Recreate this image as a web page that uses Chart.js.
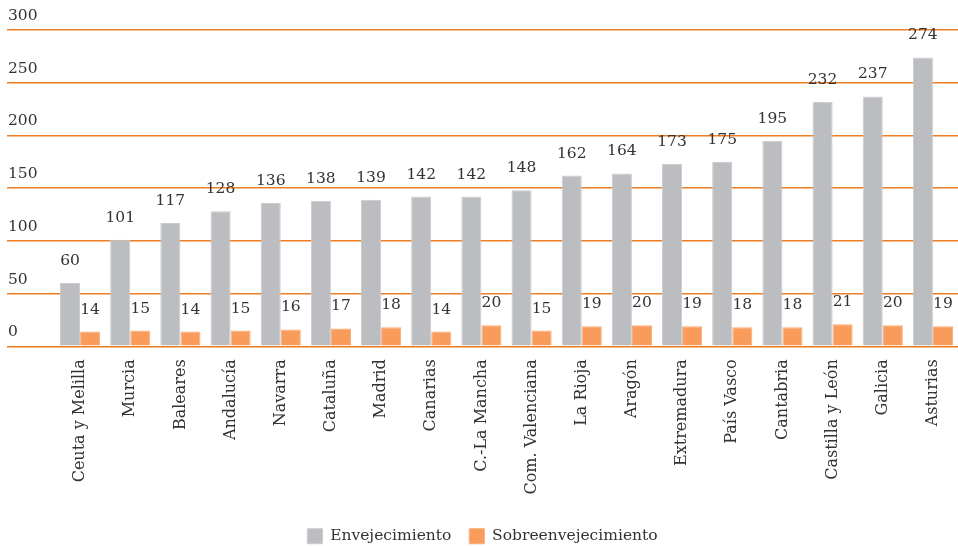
<!DOCTYPE html>
<html>
<head>
<meta charset="utf-8">
<script src="https://cdn.jsdelivr.net/npm/chart.js@4"></script>
<style>
  html, body { margin: 0; padding: 0; background: #fff; }
  #wrap { width: 958px; height: 546px; }
</style>
</head>
<body>
<div id="wrap"><canvas id="grafico"></canvas></div>
<script>
const regiones = ["Ceuta y Melilla", "Murcia", "Baleares", "Andalucía", "Navarra", "Cataluña", "Madrid", "Canarias", "C.-La Mancha", "Com. Valenciana", "La Rioja", "Aragón", "Extremadura", "País Vasco", "Cantabria", "Castilla y León", "Galicia", "Asturias"]
const envejecimiento = [60, 101, 117, 128, 136, 138, 139, 142, 142, 148, 162, 164, 173, 175, 195, 232, 237, 274]
const sobreenvejecimiento = [14, 15, 14, 15, 16, 17, 18, 14, 20, 15, 19, 20, 19, 18, 18, 21, 20, 19]
const ticksY = [0, 50, 100, 150, 200, 250, 300]

const fuente = { family: "'DejaVu Serif', serif", size: 15.5 }
const colorTexto = "#333333"
const naranja = "#EE7D22"

// etiquetas de valor encima de cada barra
const etiquetas = {
  id: "etiquetas",
  afterDatasetsDraw(chart) {
    const ctx = chart.ctx
    ctx.save()
    ctx.font = `${fuente.size}px ${fuente.family}`
    ctx.fillStyle = colorTexto
    ctx.textAlign = "center"
    ctx.textBaseline = "middle"
    chart.data.datasets.forEach((ds, i) => {
      chart.getDatasetMeta(i).data.forEach((bar, j) => {
        ctx.fillText(ds.data[j], bar.x, bar.y - 22)
      })
    })
    ctx.restore()
  }
}

const ctx = document.getElementById("grafico")
new Chart(ctx, {
  type: "bar",
  data: {
    labels: regiones,
    datasets: [
      { label: "Envejecimiento", data: envejecimiento, backgroundColor: "#BCBDC0", borderColor: "#CACBCD", borderWidth: 1 },
      { label: "Sobreenvejecimiento", data: sobreenvejecimiento, backgroundColor: "#F89B5B", borderColor: "#FAAC76", borderWidth: 1 }
    ]
  },
  options: {
    responsive: true,
    maintainAspectRatio: false,
    animation: false,
    layout: { padding: { left: 7, right: 0, top: 30, bottom: -8 } },
    datasets: { bar: { categoryPercentage: 0.8, barPercentage: 1.0 } },
    scales: {
      x: {
        grid: { display: false },
        border: { display: false },
        ticks: { color: colorTexto, font: { family: fuente.family, size: 16 }, minRotation: 90, maxRotation: 90, padding: 5, autoSkip: false },
        afterFit: (axis) => { axis.paddingLeft = 0; axis.paddingRight = 0; axis.height += 11 }
      },
      y: {
        min: 0,
        max: 300,
        afterBuildTicks: (axis) => { axis.ticks = ticksY.map(v => ({ value: v })) },
        afterFit: (axis) => { axis.width = 48 },
        grid: { color: naranja, lineWidth: 1.4, tickLength: 48, tickColor: naranja },
        border: { display: false },
        ticks: { color: colorTexto, font: fuente, mirror: true, padding: -47, labelOffset: -14 }
      }
    },
    plugins: {
      legend: {
        position: "bottom",
        labels: { color: colorTexto, font: fuente, boxWidth: 15, boxHeight: 15, padding: 18 }
      },
      tooltip: { enabled: false }
    }
  },
  plugins: [etiquetas]
})
</script>
</body>
</html>
